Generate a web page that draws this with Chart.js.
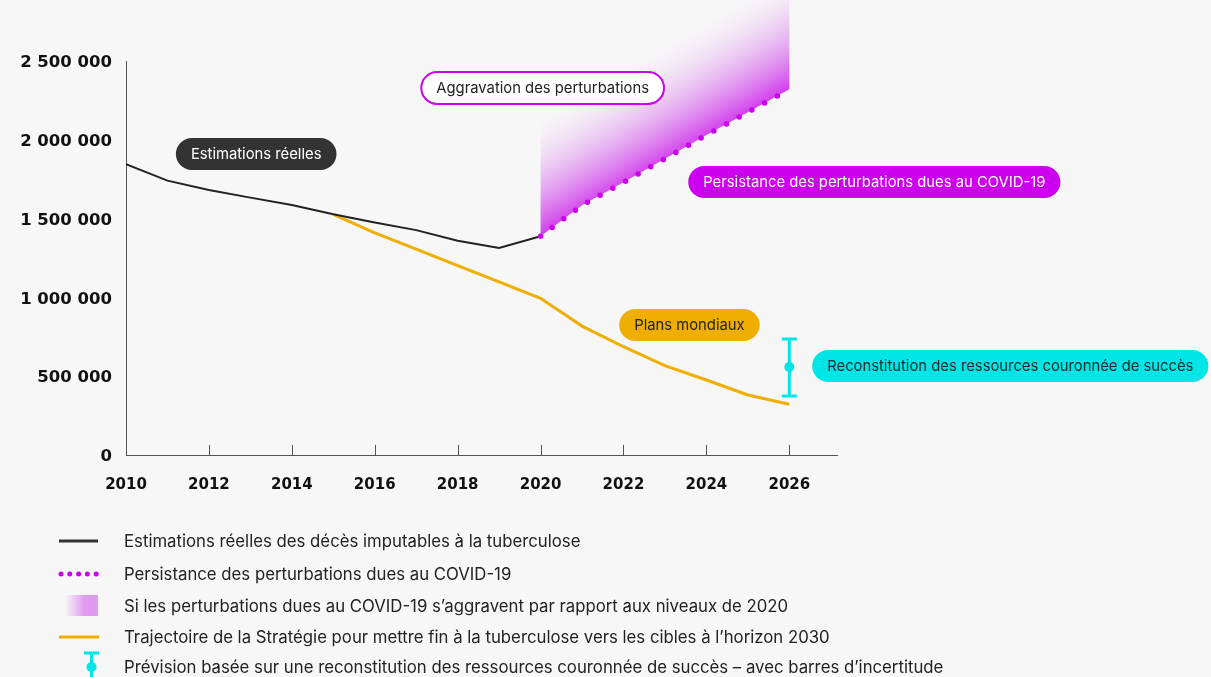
<!DOCTYPE html>
<html lang="fr">
<head>
<meta charset="utf-8">
<script src="https://cdn.jsdelivr.net/npm/chart.js@4.4.1/dist/chart.umd.min.js"></script>
<style>
  html, body { margin: 0; padding: 0; background: #f7f7f7; }
  canvas { display: block; }
</style>
</head>
<body>
<canvas id="tb-chart" width="1211" height="677"></canvas>
<script>
const canvasElement = document.getElementById("tb-chart");

// axis ticks
const xTicks = [2010, 2012, 2014, 2016, 2018, 2020, 2022, 2024, 2026];
const yTicks = [0, 500000, 1000000, 1500000, 2000000, 2500000];

// estimated real TB deaths
const realYears = [2010, 2011, 2012, 2013, 2014, 2015, 2016, 2017, 2018, 2019, 2020];
const realDeaths = [1846000, 1741000, 1681000, 1633000, 1586000, 1527000, 1475000, 1427000, 1360000, 1313000, 1388000];

// End TB strategy trajectory
const strategyYears = [2015, 2016, 2017, 2018, 2019, 2020, 2021, 2022, 2023, 2024, 2025, 2026];
const strategyDeaths = [1527000, 1409000, 1306000, 1202000, 1098000, 994000, 818000, 687000, 567000, 476000, 381000, 322000];

// COVID-19 disruptions persist
const persistYears = [2020, 2021, 2022, 2023, 2024, 2025, 2026];
const persistDeaths = [1388000, 1585000, 1730000, 1880000, 2030000, 2175000, 2320000];

// upper edge of the "disruptions worsen" band
const worseYears = [2020, 2026];
const worseUpper = [2150000, 3080000];

// successful replenishment forecast, with uncertainty
const forecastYears = [2026];
const forecastMid = [558000];
const forecastLow = [374000];
const forecastHigh = [736000];

const legendLabels = [
    "Estimations réelles des décès imputables à la tuberculose",
    "Persistance des perturbations dues au COVID-19",
    "Si les perturbations dues au COVID-19 s’aggravent par rapport aux niveaux de 2020",
    "Trajectoire de la Stratégie pour mettre fin à la tuberculose vers les cibles à l’horizon 2030",
    "Prévision basée sur une reconstitution des ressources couronnée de succès – avec barres d’incertitude"
];

const MAGENTA = "#cc00ee";
const YELLOW = "#f0ae00";
const CYAN = "#00e5e5";

// callout pills, anchored in data units
const callouts = [
    {text: "Estimations réelles", x: 2013.14, y: 1910000, fill: "#333333", stroke: null, color: "#ffffff"},
    {text: "Aggravation des perturbations", x: 2020.05, y: 2329000, fill: "#ffffff", stroke: MAGENTA, color: "#222222"},
    {text: "Persistance des perturbations dues au COVID-19", x: 2028.05, y: 1732000, fill: MAGENTA, stroke: null, color: "#ffffff"},
    {text: "Plans mondiaux", x: 2023.59, y: 825000, fill: YELLOW, stroke: null, color: "#222222"},
    {text: "Reconstitution des ressources couronnée de succès", x: 2031.33, y: 565000, fill: CYAN, stroke: null, color: "#1a2a2a"}
];

const toPoints = (xs, ys) => xs.map((x, i) => ({x: x, y: ys[i]}));

function pill(ctx, x, y, w, h) {
    const r = h / 2;
    ctx.beginPath();
    ctx.moveTo(x + r, y);
    ctx.lineTo(x + w - r, y);
    ctx.arc(x + w - r, y + r, r, -Math.PI / 2, Math.PI / 2);
    ctx.lineTo(x + r, y + h);
    ctx.arc(x + r, y + r, r, Math.PI / 2, Math.PI * 1.5);
    ctx.closePath();
}

const background = {
    id: "background",
    beforeDraw(chart) {
        const ctx = chart.ctx;
        ctx.save();
        ctx.fillStyle = "#f7f7f7";
        ctx.fillRect(0, 0, chart.width, chart.height);
        ctx.restore();
    }
};

// gradient band between the persistence line and the upper edge
const worseFill = {
    id: "worseFill",
    beforeDatasetsDraw(chart) {
        const low = chart.getDatasetMeta(2).data;
        const high = chart.getDatasetMeta(3).data;
        const ctx = chart.ctx;
        const a = low[0], b = low[low.length - 1];
        const len = Math.hypot(b.x - a.x, b.y - a.y);
        const nx = (b.y - a.y) / len, ny = -(b.x - a.x) / len;
        const dist = (high[0].x - a.x) * nx + (high[0].y - a.y) * ny;
        const grad = ctx.createLinearGradient(a.x, a.y, a.x + nx * dist, a.y + ny * dist);
        grad.addColorStop(0, "rgba(206, 40, 236, 0.9)");
        grad.addColorStop(0.45, "rgba(216, 120, 236, 0.5)");
        grad.addColorStop(1, "rgba(240, 220, 246, 0)");
        ctx.save();
        ctx.beginPath();
        low.forEach((p, i) => i ? ctx.lineTo(p.x, p.y) : ctx.moveTo(p.x, p.y));
        for (let i = high.length - 1; i >= 0; i--) ctx.lineTo(high[i].x, high[i].y);
        ctx.closePath();
        ctx.fillStyle = grad;
        ctx.fill();
        ctx.restore();
    }
};

const extras = {
    id: "extras",
    afterDatasetsDraw(chart) {
        const ctx = chart.ctx;
        const xs = chart.scales.x, ys = chart.scales.y;
        const bottom = chart.chartArea.bottom;
        ctx.save();
        // x tick marks pointing up into the plot
        ctx.strokeStyle = "#555555";
        ctx.lineWidth = 1;
        xTicks.forEach(v => {
            const px = Math.round(xs.getPixelForValue(v)) + 0.5;
            ctx.beginPath();
            ctx.moveTo(px, bottom - 10);
            ctx.lineTo(px, bottom);
            ctx.stroke();
        });
        // uncertainty bar
        ctx.strokeStyle = CYAN;
        ctx.lineWidth = 3;
        forecastYears.forEach((yr, i) => {
            const px = xs.getPixelForValue(yr);
            const top = ys.getPixelForValue(forecastHigh[i]);
            const bot = ys.getPixelForValue(forecastLow[i]);
            ctx.beginPath();
            ctx.moveTo(px, top); ctx.lineTo(px, bot);
            ctx.moveTo(px - 7.5, top); ctx.lineTo(px + 7.5, top);
            ctx.moveTo(px - 7.5, bot); ctx.lineTo(px + 7.5, bot);
            ctx.stroke();
        });
        // callouts
        ctx.font = "14.8px Inter";
        ctx.textAlign = "center";
        ctx.textBaseline = "middle";
        callouts.forEach(c => {
            const cx = xs.getPixelForValue(c.x);
            const cy = ys.getPixelForValue(c.y);
            const w = ctx.measureText(c.text).width + 30;
            pill(ctx, cx - w / 2, cy - 16, w, 32);
            ctx.fillStyle = c.fill;
            ctx.fill();
            if (c.stroke) {
                ctx.strokeStyle = c.stroke;
                ctx.lineWidth = 2;
                ctx.stroke();
            }
            ctx.fillStyle = c.color;
            ctx.fillText(c.text, cx, cy + 1);
        });
        ctx.restore();
    },
    afterDraw(chart) {
        const ctx = chart.ctx;
        const rows = [541, 574, 606, 637, 667];
        ctx.save();
        // legend symbols
        ctx.lineCap = "butt";
        ctx.strokeStyle = "#333333";
        ctx.lineWidth = 3;
        ctx.beginPath(); ctx.moveTo(59, rows[0]); ctx.lineTo(98, rows[0]); ctx.stroke();
        ctx.fillStyle = MAGENTA;
        for (let i = 0; i < 5; i++) {
            ctx.beginPath();
            ctx.arc(61 + i * 8.8, rows[1], 2.5, 0, Math.PI * 2);
            ctx.fill();
        }
        const g = ctx.createLinearGradient(65, 0, 98, 0);
        g.addColorStop(0, "rgba(224, 154, 240, 0)");
        g.addColorStop(0.6, "rgba(224, 154, 240, 1)");
        g.addColorStop(1, "rgba(224, 154, 240, 1)");
        ctx.fillStyle = g;
        ctx.fillRect(65, rows[2] - 11, 33, 21);
        ctx.strokeStyle = YELLOW;
        ctx.beginPath(); ctx.moveTo(59, rows[3]); ctx.lineTo(99, rows[3]); ctx.stroke();
        ctx.strokeStyle = CYAN;
        ctx.beginPath();
        ctx.moveTo(84, rows[4] - 14); ctx.lineTo(99, rows[4] - 14);
        ctx.moveTo(91.5, rows[4] - 14); ctx.lineTo(91.5, rows[4] + 12);
        ctx.stroke();
        ctx.fillStyle = CYAN;
        ctx.beginPath(); ctx.arc(91.5, rows[4], 5, 0, Math.PI * 2); ctx.fill();
        // legend text
        ctx.font = "16.75px Inter";
        ctx.fillStyle = "#222222";
        ctx.textAlign = "left";
        ctx.textBaseline = "middle";
        legendLabels.forEach((t, i) => ctx.fillText(t, 124, rows[i] + 1));
        ctx.restore();
    }
};

const data = {
    datasets: [
        {
            label: "Estimations réelles",
            data: toPoints(realYears, realDeaths),
            borderColor: "#222222",
            borderWidth: 2,
            pointRadius: 0,
            order: 2
        },
        {
            label: "Stratégie",
            data: toPoints(strategyYears, strategyDeaths),
            borderColor: YELLOW,
            borderWidth: 3,
            pointRadius: 0,
            order: 3
        },
        {
            label: "Persistance",
            data: toPoints(persistYears, persistDeaths),
            borderColor: MAGENTA,
            borderWidth: 5.5,
            borderDash: [0, 14.5],
            borderCapStyle: "round",
            pointRadius: 0,
            clip: false,
            order: 1
        },
        {
            label: "Aggravation",
            data: toPoints(worseYears, worseUpper),
            showLine: false,
            pointRadius: 0,
            clip: false
        },
        {
            label: "Prévision",
            data: toPoints(forecastYears, forecastMid),
            showLine: false,
            pointRadius: 5,
            pointBackgroundColor: CYAN,
            pointBorderWidth: 0,
            order: 0
        }
    ]
};

const config = {
    type: "line",
    data: data,
    options: {
        responsive: false,
        animation: false,
        devicePixelRatio: 1,
        layout: {padding: {left: 0, top: 61, right: 374, bottom: 182}},
        plugins: {
            legend: {display: false},
            tooltip: {enabled: false}
        },
        scales: {
            x: {
                type: "linear",
                min: 2010,
                max: 2027.15,
                afterBuildTicks: scale => { scale.ticks = xTicks.map(v => ({value: v})); },
                afterFit: scale => { scale.height = 40; },
                grid: {display: false, drawTicks: false},
                border: {display: true, color: "#555555", width: 1},
                ticks: {
                    color: "#111111",
                    font: {family: "DejaVu Sans", weight: "bold", size: 15},
                    padding: 21,
                    maxRotation: 0,
                    callback: v => String(v)
                }
            },
            y: {
                min: 0,
                max: 2500000,
                afterBuildTicks: scale => { scale.ticks = yTicks.map(v => ({value: v})); },
                afterFit: scale => { scale.width = 126; },
                grid: {display: false, drawTicks: false},
                border: {display: true, color: "#555555", width: 1},
                ticks: {
                    color: "#111111",
                    font: {family: "DejaVu Sans", weight: "bold", size: 16.5},
                    padding: 14,
                    labelOffset: 2,
                    callback: v => String(v).replace(/\B(?=(\d{3})+(?!\d))/g, " ")
                }
            }
        }
    },
    plugins: [background, worseFill, extras]
};

const myChart = new Chart(canvasElement, config);
</script>
</body>
</html>
